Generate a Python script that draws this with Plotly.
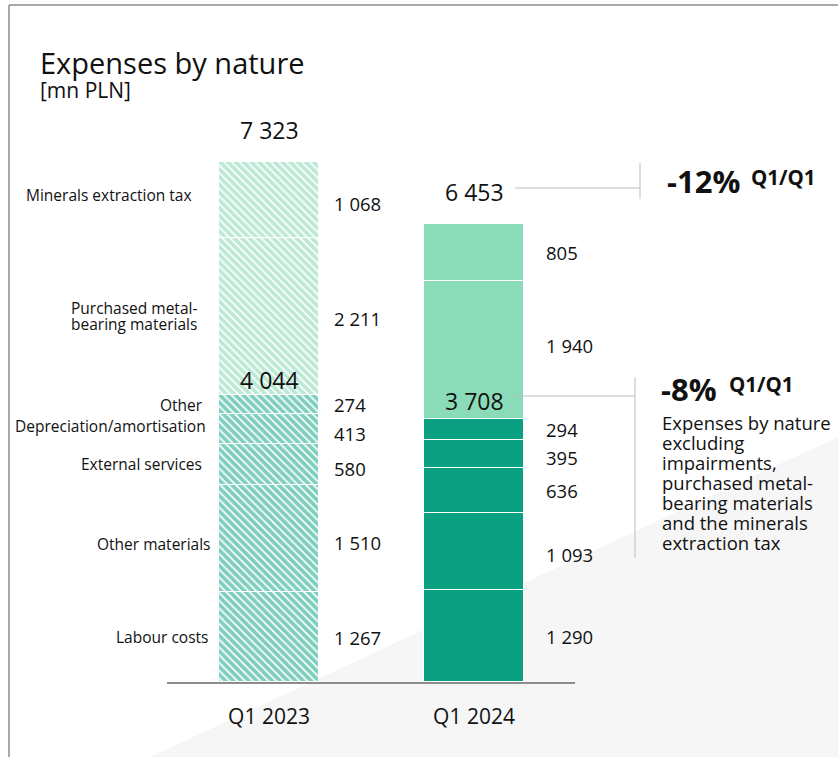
import plotly.graph_objects as go

# ---- data -------------------------------------------------------------
periods = ["Q1 2023", "Q1 2024"]
categories = [
    "Labour costs",
    "Other materials",
    "External services",
    "Depreciation/amortisation",
    "Other",
    "Purchased metal-\nbearing materials",
    "Minerals extraction tax",
]
values_2023 = [1267, 1510, 580, 413, 274, 2211, 1068]
values_2024 = [1290, 1093, 636, 395, 294, 1940, 805]
totals = [7323, 6453]
core_totals = [4044, 3708]
total_change = "-12%"
core_change = "-8%"
change_basis = "Q1/Q1"
core_note = [
    "Expenses by nature",
    "excluding",
    "impairments,",
    "purchased metal-",
    "bearing materials",
    "and the minerals",
    "extraction tax",
]
title = "Expenses by nature"
unit = "[mn PLN]"

# ---- styling ----------------------------------------------------------
W, H = 838, 757
PLOT_BOTTOM = 682          # pixel row of the baseline
Y_TOP = 9605               # value at the top edge of the figure
FONT = "Open Sans"
DARK = "#0A9F80"
LIGHT = "#8ADBB8"
DARK_HATCH = "#009E7C"
LIGHT_HATCH = "#78D4AD"
N_CORE = 5                 # bottom five categories form the core subtotal


def px(x):
    return x / W


def py(y):
    return (PLOT_BOTTOM - y) / PLOT_BOTTOM


def fmt(v):
    return f"{v:,}".replace(",", " ")


fig = go.Figure()

# previous period: hatched column; current period: solid column
for i, cat in enumerate(categories):
    core = i < N_CORE
    fill = DARK if core else LIGHT
    hatch = DARK_HATCH if core else LIGHT_HATCH
    fig.add_trace(go.Bar(
        x=[periods[0]], y=[values_2023[i]], width=0.49, name=cat,
        marker=dict(
            color="white",
            line=dict(color="white", width=1.5),
            pattern=dict(shape="\\", fgcolor=hatch, bgcolor="white",
                         size=5.5, solidity=0.7, fillmode="overlay"),
        ),
        hoverinfo="skip", showlegend=False,
    ))
    fig.add_trace(go.Bar(
        x=[periods[1]], y=[values_2024[i]], width=0.49, name=cat,
        marker=dict(color=fill, line=dict(color="white", width=1.5)),
        hoverinfo="skip", showlegend=False,
    ))

annotations = []

# title block
annotations.append(dict(text=title, x=px(38), y=py(62), xref="paper", yref="paper",
                        xanchor="left", yanchor="middle", showarrow=False,
                        font=dict(family=FONT, size=29, color="#111")))
annotations.append(dict(text=unit, x=px(38), y=py(90), xref="paper", yref="paper",
                        xanchor="left", yanchor="middle", showarrow=False,
                        font=dict(family=FONT, size=21, color="#111")))

# category names beside the first column, value labels beside each column
label_xoff = [2, 5, -4, 0, -3, -9, -14]
label_yshift = [0, -6, 0, 3, 0, 0, 5]
val_yshift = [[0, 0], [-4, -3], [-4, 0], [-5, -4], [0, 0], [-2, 4], [-4, 0]]
val_xshift = [13, 20]
cum = [0, 0]
for i, cat in enumerate(categories):
    vals = [values_2023[i], values_2024[i]]
    mids = [cum[j] + vals[j] / 2 for j in range(2)]
    lines = cat.split("\n")
    for k, line in enumerate(lines):
        off = (len(lines) - 1) / 2 - k
        annotations.append(dict(
            text=line, x=px(208 + label_xoff[i]), xref="paper", y=mids[0], yref="y",
            xanchor="right", yanchor="middle", showarrow=False,
            yshift=label_yshift[i] + off * 16,
            font=dict(family=FONT, size=15.5, color="#111")))
    for j in range(2):
        annotations.append(dict(
            text=fmt(vals[j]), x=j + 0.245, xref="x", y=mids[j], yref="y",
            xanchor="left", yanchor="middle", showarrow=False,
            xshift=val_xshift[j], yshift=val_yshift[i][j],
            font=dict(family=FONT, size=18.5, color="#111")))
        cum[j] += vals[j]

# column totals and core subtotals
for j in range(2):
    annotations.append(dict(
        text=fmt(totals[j]), x=j, xref="x", y=totals[j], yref="y",
        xanchor="center", yanchor="middle", showarrow=False, yshift=32,
        font=dict(family=FONT, size=23, color="#111")))
    annotations.append(dict(
        text=fmt(core_totals[j]), x=j, xref="x", y=core_totals[j], yref="y",
        xanchor="center", yanchor="middle", showarrow=False, yshift=[15, 18][j],
        font=dict(family=FONT, size=23, color="#111")))

# change callouts
for change, xl, xs, yc, ys in [(total_change, 665, 749, 181, 177),
                               (core_change, 659, 727, 389, 384)]:
    annotations.append(dict(
        text=f"<b>{change}</b>", x=px(xl), y=py(yc), xref="paper", yref="paper",
        xanchor="left", yanchor="middle", showarrow=False,
        font=dict(family=FONT, size=31, color="#111")))
    annotations.append(dict(
        text=f"<b>{change_basis}</b>", x=px(xs), y=py(ys), xref="paper", yref="paper",
        xanchor="left", yanchor="middle", showarrow=False,
        font=dict(family=FONT, size=20.5, color="#111")))

for k, line in enumerate(core_note):
    annotations.append(dict(
        text=line, x=px(660), y=py(422 + 20 * k), xref="paper", yref="paper",
        xanchor="left", yanchor="middle", showarrow=False,
        font=dict(family=FONT, size=18.5, color="#111")))

GRID = "#BDBDBD"
shapes = [
    # soft grey wedge in the background
    dict(type="path", xref="paper", yref="paper", layer="below",
         path=f"M {px(150)},{py(757)} L 1,{py(437)} L 1,{py(757)} Z",
         fillcolor="#F6F6F6", line=dict(width=0)),
    # frame
    dict(type="line", xref="paper", yref="paper", x0=px(9), x1=1, y0=py(5), y1=py(5),
         line=dict(color="#8C8C8C", width=1.5)),
    dict(type="line", xref="paper", yref="paper", x0=px(9), x1=px(9), y0=py(757), y1=py(5),
         line=dict(color="#8C8C8C", width=1.5)),
    # connectors for the change callouts
    dict(type="line", xref="paper", yref="paper", x0=px(515), x1=px(640), y0=py(188), y1=py(188),
         line=dict(color=GRID, width=1)),
    dict(type="line", xref="paper", yref="paper", x0=px(640), x1=px(640), y0=py(163), y1=py(199),
         line=dict(color=GRID, width=1)),
    dict(type="line", xref="paper", yref="paper", x0=px(513), x1=px(635), y0=py(396), y1=py(396),
         line=dict(color=GRID, width=1)),
    dict(type="line", xref="paper", yref="paper", x0=px(635), x1=px(635), y0=py(377), y1=py(558),
         line=dict(color=GRID, width=1)),
]

fig.update_layout(
    width=W, height=H,
    margin=dict(l=0, r=0, t=0, b=H - PLOT_BOTTOM, pad=0),
    barmode="stack",
    bargap=0,
    paper_bgcolor="white",
    plot_bgcolor="rgba(0,0,0,0)",
    font=dict(family=FONT, color="#111"),
    annotations=annotations,
    shapes=shapes,
    xaxis=dict(type="category", domain=[px(167), px(575)], range=[-0.4976, 1.4927],
               showline=True, linecolor="#8C8C8C", linewidth=1.5, showgrid=False,
               zeroline=False, ticks="", ticklabelstandoff=15,
               tickfont=dict(family=FONT, size=21, color="#111"), fixedrange=True),
    yaxis=dict(range=[0, Y_TOP], visible=False, showgrid=False, zeroline=False,
               fixedrange=True),
)

fig.write_html("out.html", config={"displayModeBar": False})
